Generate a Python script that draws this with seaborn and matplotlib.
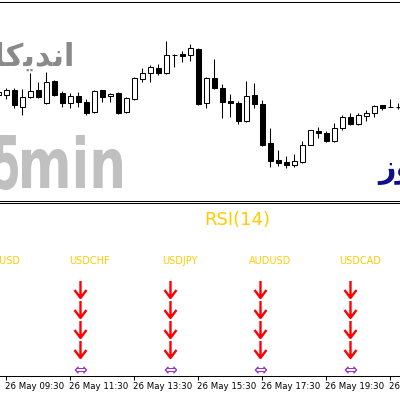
import numpy as np
import matplotlib
matplotlib.use("Agg")
import matplotlib.pyplot as plt
import seaborn as sns
from matplotlib.path import Path
from matplotlib.textpath import TextPath
from matplotlib.patches import PathPatch
from matplotlib.font_manager import FontProperties
from matplotlib.transforms import Affine2D, ScaledTranslation

# ---------------- data ----------------
candle_idx = np.arange(-1, 50)
opens  = [105, 105, 110,  93, 103, 110,  97, 119, 107,  97, 104,  98,  88, 110, 104, 107,  88, 101, 121, 127, 132,
          127, 145, 146, 145, 151,  97, 122, 112,  99,  97,  79, 105,  96,  57,  40,  38,  35,  38,  55,  69,  67,
           59,  72,  83,  76,  84,  87,  95,  93,  93]
closes = [108, 110,  95, 103, 109, 103, 118, 105,  97, 104,  98,  87, 109, 103, 106,  87, 102, 122, 127, 133, 127,
          145, 145, 144, 152,  96, 122, 112,  98,  97,  79, 104,  96,  55,  39,  37,  35,  39,  55,  70,  67,  59,
           72,  83,  76,  85,  87,  94,  92,  93,  93]
highs  = [110, 112, 112, 111, 127, 118, 128, 120, 109, 107, 108, 101, 110, 110, 107, 108, 103, 123, 132, 135, 136,
          159, 146, 149, 156, 152, 123, 141, 116, 106,  99, 119, 117, 100,  72,  50,  44,  46,  59,  70,  73,  69,
           77,  85,  87,  87,  90,  95,  95, 101,  97]
lows   = [102, 101,  92,  85, 102, 102,  96, 104,  93,  92,  93,  85,  87,  98,  98,  86,  87, 100, 118, 118, 125,
          126, 133, 138, 139,  95,  92, 111,  82,  83,  76,  78,  92,  54,  33,  34,  32,  33,  37,  55,  62,  58,
           58,  70,  75,  75,  79,  83,  90,  93,  91]

time_ticks = [0, 8, 16, 24, 32, 40, 48]
time_labels = ["26 May 09:30", "26 May 11:30", "26 May 13:30", "26 May 15:30",
               "26 May 17:30", "26 May 19:30", "26 May 21:30"]

pairs = ["EURUSD", "USDCHF", "USDJPY", "AUDUSD", "USDCAD"]
signal_x = [-2.05, 9.2, 20.45, 31.7, 42.95]
down_count = [4, 4, 4, 4, 4]

indicator_title = "RSI(14)"
# visual-order Arabic presentation forms
persian_title = "\uFEAD\uFEEE\uFE97\uFE8E\uFB90\uFBFE\uFEAA\uFEE7\uFE8D"   # اندیکاتور
persian_day = "\uFEAF\uFEED\uFEAD"                                         # روز

# ---------------- style ----------------
sns.set_theme(style="white")
plt.rcParams['font.family'] = ['DejaVu Sans']

W, H = 400, 397
fig = plt.figure(figsize=(W / 100, H / 100), dpi=100)
fig.patch.set_facecolor('white')


def fx(px):
    return px / W


def fy(py):
    return 1 - py / H


GOLD = '#FFCC00'

ax1 = fig.add_axes([0, fy(200.5), 1, fy(2) - fy(200.5)])
ax2 = fig.add_axes([0, fy(376), 1, fy(202.5) - fy(376)], sharex=ax1)
for ax in (ax1, ax2):
    ax.set_facecolor('none')
    for s in ('left', 'right'):
        ax.spines[s].set_visible(False)
    for s in ('top', 'bottom'):
        ax.spines[s].set_color('black')
        ax.spines[s].set_linewidth(0.75)

# ---------------- candles ----------------
o = np.array(opens, float)
c = np.array(closes, float)
hi = np.array(highs, float)
lo = np.array(lows, float)
bull = c >= o
bottom = np.minimum(o, c)
height = np.abs(c - o)

ax1.vlines(candle_idx, lo, hi, color='black', lw=0.75, zorder=1)
ax1.bar(candle_idx[bull], height[bull], bottom=bottom[bull], width=0.6,
        facecolor='white', edgecolor='black', linewidth=0.75, zorder=2)
ax1.bar(candle_idx[~bull], height[~bull], bottom=bottom[~bull], width=0.6,
        facecolor='black', edgecolor='black', linewidth=0.75, zorder=2)

ax1.set_xlim(-6.3 / 8, (400 - 6.3) / 8)
ax1.set_ylim(-0.5, 198)
ax1.tick_params(left=False, bottom=False, labelleft=False, labelbottom=False)

# ---------------- lower panel ----------------
ax2.set_ylim(-0.375, 8.3)
ax2.tick_params(left=False, labelleft=False)
ax2.set_xticks(time_ticks)
ax2.set_xticklabels(time_labels)
ax2.tick_params(axis='x', bottom=True, direction='out', length=3, width=0.75,
                color='black', labelsize=6.2, pad=1.5, labelcolor='black')
off = ScaledTranslation(-1 / 100, 0, fig.dpi_scale_trans)
for lbl in ax2.get_xticklabels():
    lbl.set_ha('left')
    lbl.set_transform(lbl.get_transform() + off)

arrow_path = Path([(0, 8.5), (0, -8.5), (-6, -0.5), (0, -8.5), (6, -0.5)],
                  [Path.MOVETO, Path.LINETO, Path.MOVETO, Path.LINETO, Path.LINETO])
for x, n in zip(signal_x, down_count):
    rows = np.arange(1, n + 1)
    ax2.plot([x] * n, rows, ls='none', marker=arrow_path, ms=12.2,
             mec='#FF0000', mfc='none', mew=1.7, clip_on=True)
    ax2.text(x, -0.075, "\u21D4", ha='center', va='center', color='#9932CC', fontsize=12)

for x, name in zip(signal_x, pairs):
    ax2.text(x + 1.25, 5.375, name, ha='center', va='center', fontsize=7, color=GOLD)

fig.text(fx(237), fy(220), indicator_title, ha='center', va='center', fontsize=13, color=GOLD)

# ---------------- watermark texts ----------------
fp = FontProperties(family='DejaVu Sans', weight='bold')


def stretched(text, x0, x1, ytop, ybot, color):
    tp = TextPath((0, 0), text, size=50, prop=fp)
    bb = tp.get_extents()
    tr = (Affine2D().translate(-bb.x0, -bb.y0)
          .scale((x1 - x0) / bb.width, (ybot - ytop) / bb.height)
          .translate(x0, H - ybot).scale(1 / 100) + fig.dpi_scale_trans)
    fig.add_artist(PathPatch(tp, transform=tr, facecolor=color, edgecolor='none', zorder=0.5))


stretched("5", -4, 18, 135, 190, '#C0C0C0')
stretched("min", 22, 122, 135, 188, '#C0C0C0')

fig.text(fx(75), fy(66), persian_title, ha='right', va='baseline', fontsize=22,
         fontweight='bold', color='#8A8A8A')
fig.text(fx(378), fy(177), persian_day, ha='left', va='baseline', fontsize=22,
         fontweight='bold', color='#10108E')

fig.savefig("out.png", dpi=100, facecolor='white')
